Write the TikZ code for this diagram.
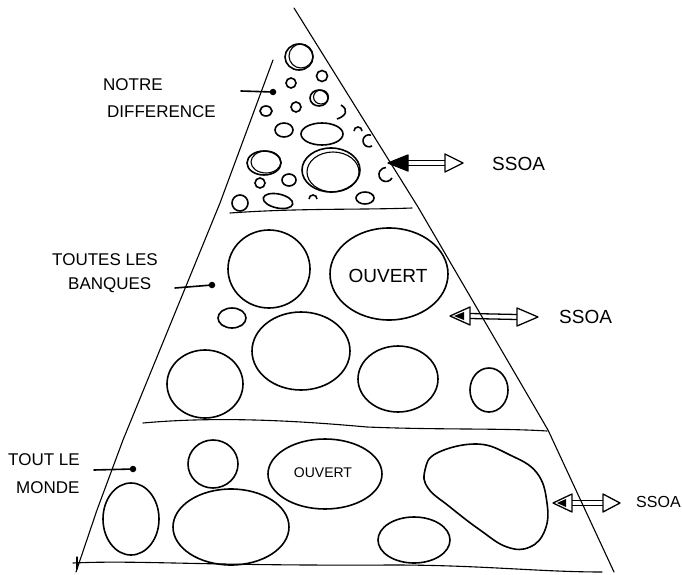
\documentclass[tikz,border=0pt]{standalone}
\usepackage{fontspec}
\setmainfont{Liberation Sans}
\usetikzlibrary{calc}
\tikzset{
  edge/.style={line width=1.1pt, line join=round, line cap=round},
  bub/.style={line width=1.6pt},
  bubthin/.style={line width=1.1pt},
  lbl/.style={font=\fontsize{17}{19}\selectfont, anchor=west, inner sep=0pt},
  ssoa/.style={font=\fontsize{19}{21}\selectfont, anchor=west, inner sep=0pt},
  dotm/.style={circle, fill=black, inner sep=0pt, minimum size=6.5pt},
  pointer/.style={line width=1.6pt, line cap=round},
  head/.style={line width=1.3pt, line join=round},
  shaft/.style={line width=1.3pt}
}
\begin{document}
\begin{tikzpicture}[x=1pt,y=-1pt]
\useasboundingbox (0,0) rectangle (682,575);

% pyramid outline
\coordinate (apex) at (294,8);
\draw[edge] (apex) -- (418,207) -- (548,430) -- (614,572);
\draw[edge] (273,60) -- (220,203) -- (123,440) -- (97,510) -- (76,572);
\draw[edge] (230,213) .. controls (300,208) and (360,210) .. (412,208);
\draw[edge] (143,423) .. controls (220,416) and (300,421) .. (367,427) .. controls (440,430) and (500,428) .. (547,431);
\draw[edge] (73,563) .. controls (140,560) and (200,566) .. (393,565) .. controls (480,565) and (540,572) .. (602,572);
\draw[edge] (77,557) -- (77,569);

% top section bubbles
\draw[bub] (299,57) ellipse [x radius=14, y radius=13];
\draw[bubthin] (301,56) ellipse [x radius=12, y radius=12];
\draw[bub] (322,76) circle [radius=5.5];
\draw[bub] (291,83) circle [radius=5];
\draw[bub] (319,98) ellipse [x radius=9, y radius=8];
\draw[bubthin] (321,97) ellipse [x radius=7.5, y radius=7];
\draw[bub] (296,107) circle [radius=5];
\draw[bub] (266,111) ellipse [x radius=6, y radius=5];
\draw[bub] (284,130) ellipse [x radius=9, y radius=7];
\draw[bub] (322,134) ellipse [x radius=21, y radius=11];
\draw[bub] (331,170) ellipse [x radius=29, y radius=22];
\draw[bubthin] (333,172) ellipse [x radius=26, y radius=20];
\draw[bub] (264,163) ellipse [x radius=17, y radius=12];
\draw[bubthin] (266,162) ellipse [x radius=15, y radius=11];
\draw[bub] (260,183) circle [radius=5];
\draw[bub] (289,180) ellipse [x radius=7, y radius=6];
\draw[bub, rotate around={-12:(278,201)}] (278,201) ellipse [x radius=15, y radius=7];
\draw[bub] (240,203) circle [radius=8];
\draw[bub] (365,198) ellipse [x radius=9, y radius=6];
\draw[bub] (341,105) .. controls (349,110) and (346,116) .. (337,119);
\draw[bub] (354,131) arc [start angle=180, end angle=360, radius=4];
\draw[bub] (372,146) arc [start angle=60, end angle=290, radius=6];
\draw[bub] (392,178) arc [start angle=30, end angle=270, radius=7];
\draw[bub] (309,199) arc [start angle=180, end angle=360, radius=4];

% middle section bubbles
\draw[bub] (269,269) ellipse [x radius=41, y radius=39];
\draw[bub] (389,274) ellipse [x radius=59, y radius=46];
\draw[bub] (232,318) ellipse [x radius=14, y radius=10];
\draw[bub] (301,351) ellipse [x radius=49, y radius=39];
\draw[bub] (205,384) ellipse [x radius=38, y radius=34];
\draw[bub] (398,379) ellipse [x radius=40, y radius=33];
\draw[bub] (489,390) ellipse [x radius=19, y radius=22];

% bottom section bubbles
\draw[bub] (213,464) ellipse [x radius=25, y radius=24];
\draw[bub] (325,474) ellipse [x radius=57, y radius=35];
\draw[bub] (131,519) ellipse [x radius=28, y radius=36];
\draw[bub] (231,527) ellipse [x radius=58, y radius=38];
\draw[bub] (414,540) ellipse [x radius=36, y radius=23];
\draw[bub] plot[smooth cycle, tension=0.7] coordinates {(425,470) (437,453) (477,444) (510,455) (537,473) (547,503) (545,530) (530,547) (507,547) (480,530) (450,507) (428,488)};

% texts
\node[lbl] (notre) at (103,85) {NOTRE};
\node[lbl] (diff) at (107,112) {DIFFERENCE};
\node[lbl] (toutes) at (52,260) {TOUTES LES};
\node[lbl] (banques) at (68,285) {BANQUES};
\node[lbl] (tout) at (8,460) {TOUT LE};
\node[lbl] (monde) at (16,488) {MONDE};
\node[font=\fontsize{19}{21}\selectfont, inner sep=0pt] (ouv1) at (388,276) {OUVERT};
\node[font=\fontsize{14}{16}\selectfont, inner sep=0pt] (ouv2) at (323,473) {OUVERT};

% pointers with dots
\node[dotm] (d1) at (273,92) {};
\coordinate (p1) at (241,91);
\draw[pointer] (p1) -- (d1.center);
\node[dotm] (d2) at (212,285) {};
\coordinate (p2) at (175,288);
\draw[pointer] (p2) -- (d2.center);
\node[dotm] (d3) at (133,469) {};
\coordinate (p3) at (94,470);
\draw[pointer] (p3) -- (d3.center);

% SSOA double arrows
% top
\coordinate (aL) at (388,163);
\coordinate (aR) at (463,163);
\draw[shaft] ($(aL)+(20,-2.5)$) -- ($(aR)+(-18,-2.5)$);
\draw[shaft] ($(aL)+(20,2.5)$) -- ($(aR)+(-18,2.5)$);
\draw[head, fill=black] (aL) -- ($(aL)+(20,-8)$) -- ($(aL)+(20,8)$) -- cycle;
\draw[head, fill=white] (aR) -- ($(aR)+(-18,-9)$) -- ($(aR)+(-18,9)$) -- cycle;
\node[ssoa] (s1) at (492,164) {SSOA};
% middle
\coordinate (bL) at (450,316);
\coordinate (bR) at (538,317);
\draw[shaft] ($(bL)+(20,-2.5)$) -- ($(bR)+(-21,-2.5)$);
\draw[shaft] ($(bL)+(20,2.5)$) -- ($(bR)+(-21,2.5)$);
\draw[head, fill=white] (bL) -- ($(bL)+(20,-9)$) -- ($(bL)+(20,9)$) -- cycle;
\fill ($(bL)+(4,0)$) -- ($(bL)+(14,-4)$) -- ($(bL)+(14,4)$) -- cycle;
\draw[head, fill=white] (bR) -- ($(bR)+(-21,-9)$) -- ($(bR)+(-21,9)$) -- cycle;
\node[ssoa] (s2) at (559,317) {SSOA};
% bottom
\coordinate (cL) at (553,503);
\coordinate (cR) at (620,503);
\draw[shaft] ($(cL)+(19,-2.5)$) -- ($(cR)+(-17,-2.5)$);
\draw[shaft] ($(cL)+(19,2.5)$) -- ($(cR)+(-17,2.5)$);
\draw[head, fill=white] (cL) -- ($(cL)+(19,-9)$) -- ($(cL)+(19,9)$) -- cycle;
\fill ($(cL)+(4,0)$) -- ($(cL)+(13,-4)$) -- ($(cL)+(13,4)$) -- cycle;
\draw[head, fill=white] (cR) -- ($(cR)+(-17,-9)$) -- ($(cR)+(-17,9)$) -- cycle;
\node[ssoa, font=\fontsize{16}{20}\selectfont] (s3) at (636,502) {SSOA};
\end{tikzpicture}
\end{document}
